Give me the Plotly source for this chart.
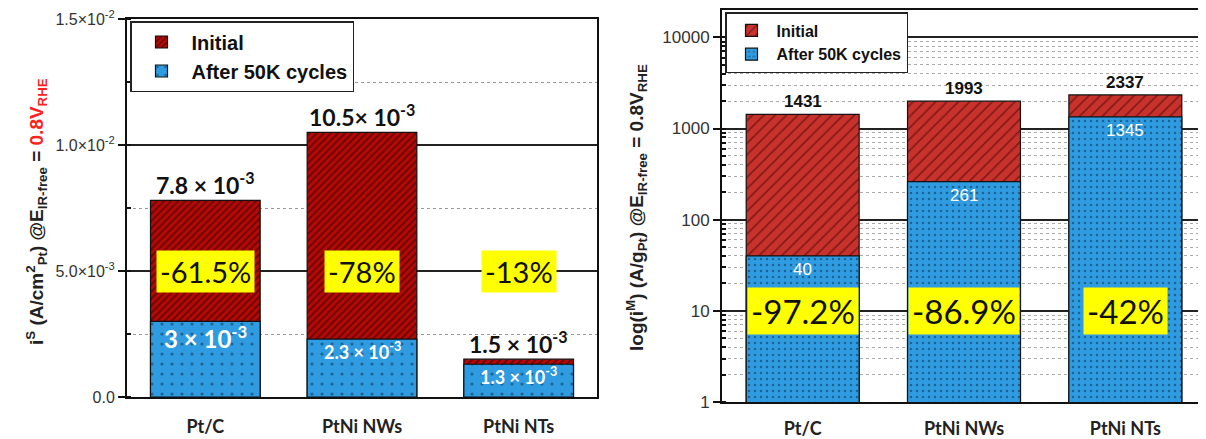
import numpy as np
import plotly.graph_objects as go

# categories and values
categories = ["Pt/C", "PtNi NWs", "PtNi NTs"]

# left: specific activity (A/cm2_Pt)
initial_s = [7.8e-3, 10.5e-3, 1.5e-3]
after_s = [3.0e-3, 2.3e-3, 1.3e-3]
initial_s_txt = ["7.8 × 10<sup>-3</sup>", "10.5× 10<sup>-3</sup>", "1.5 × 10<sup>-3</sup>"]
after_s_txt = ["3 × 10<sup>-3</sup>", "2.3 × 10<sup>-3</sup>", "1.3 × 10<sup>-3</sup>"]
loss_s = ["-61.5%", "-78%", "-13%"]

# right: mass activity (A/g_Pt)
initial_m = [1431, 1993, 2337]
after_m = [40, 261, 1345]
loss_m = ["-97.2%", "-86.9%", "-42%"]

left_ticks = [0, 0.005, 0.01, 0.015]
left_ticktext = ["0.0", "5.0×10<sup>-3</sup>", "1.0×10<sup>-2</sup>", "1.5×10<sup>-2</sup>"]
right_ticks = [1, 10, 100, 1000, 10000]
right_ticktext = ["1", "10", "100", "1000", "10000"]

RED = "#b40a05"
RED2 = "#c8322c"
BLUE = "#2f9be0"

W, H, OFF = 1206, 439, 8  # page body margin shifts the figure by 8px


def px(x):
    return (x - OFF) / W


def py(y):
    return 1 - (y - OFF) / H


fig = go.Figure()

# left panel (overlay: initial behind, after in front)
fig.add_trace(go.Bar(
    x=categories, y=initial_s, name="Initial", width=0.7,
    marker=dict(color=RED, line=dict(color="#111", width=1.2),
                pattern=dict(shape="/", fgcolor="#2a0000", size=5, solidity=0.4)),
    xaxis="x", yaxis="y", legend="legend",
))
fig.add_trace(go.Bar(
    x=categories, y=after_s, name="After 50K cycles", width=0.7,
    marker=dict(color=BLUE, line=dict(color="#111", width=1.2),
                pattern=dict(shape=".", fgcolor="#0b2b45", size=10, solidity=0.08)),
    xaxis="x", yaxis="y", legend="legend",
))

# right panel
fig.add_trace(go.Bar(
    x=categories, y=initial_m, name="Initial", width=0.7,
    marker=dict(color=RED2, line=dict(color="#111", width=1.2),
                pattern=dict(shape="/", fgcolor="#3a0000", size=8, solidity=0.2)),
    xaxis="x2", yaxis="y2", legend="legend2",
))
fig.add_trace(go.Bar(
    x=categories, y=after_m, name="After 50K cycles", width=0.7,
    marker=dict(color=BLUE, line=dict(color="#111", width=1.2),
                pattern=dict(shape=".", fgcolor="#0b2b45", size=6, solidity=0.15)),
    xaxis="x2", yaxis="y2", legend="legend2",
))

ann = []
cal = "Lato, Carlito, sans-serif"
ari = "Liberation Sans, Arial, sans-serif"
for c, v, t in zip(categories, initial_s, initial_s_txt):
    ann.append(dict(x=c, y=v, xref="x", yref="y", text="<b>" + t + "</b>", showarrow=False,
                    yanchor="bottom", yshift=-1, font=dict(family=cal, size=23, color="#111")))
for c, v, t, s in zip(categories, after_s, after_s_txt, [24, 18, 18]):
    ann.append(dict(x=c, y=v, xref="x", yref="y", text="<b>" + t + "</b>", showarrow=False,
                    yanchor="top", yshift=2, font=dict(family=cal, size=s, color="white")))
for c, t in zip(categories, loss_s):
    ann.append(dict(x=c, y=0.005, xref="x", yref="y", text=t, showarrow=False,
                    bgcolor="#ffff00", borderpad=3,
                    font=dict(family=cal, size=29, color="#111")))

for c, v in zip(categories, initial_m):
    ann.append(dict(x=c, y=np.log10(v), xref="x2", yref="y2", text="<b>%d</b>" % v, showarrow=False,
                    yanchor="bottom", yshift=1, font=dict(family=ari, size=17, color="#111")))
for c, v in zip(categories, after_m):
    ann.append(dict(x=c, y=np.log10(v), xref="x2", yref="y2", text="%d" % v, showarrow=False,
                    yanchor="top", yshift=-2, font=dict(family=ari, size=17, color="white")))
for c, t in zip(categories, loss_m):
    ann.append(dict(x=c, y=1, xref="x2", yref="y2", text=t, showarrow=False,
                    bgcolor="#ffff00", borderpad=3,
                    font=dict(family=cal, size=33, color="#111")))

# axis titles
ann.append(dict(x=px(36), y=py(212), xref="paper", yref="paper", textangle=-90, showarrow=False,
                xanchor="center", yanchor="middle",
                text="<b>i<sup>S</sup> (A/cm<sup>2</sup><sub>Pt</sub>) @E<sub>IR-free</sub> = "
                     "<span style='color:#ff2020'>0.8V<sub>RHE</sub></span></b>",
                font=dict(family=ari, size=19, color="#222")))
ann.append(dict(x=px(636), y=py(208), xref="paper", yref="paper", textangle=-90, showarrow=False,
                xanchor="center", yanchor="middle",
                text="<b>log(i<sup>M</sup>) (A/g<sub>Pt</sub>) @E<sub>IR-free</sub> = 0.8V<sub>RHE</sub></b>",
                font=dict(family=ari, size=19, color="#222")))

xcommon = dict(range=[-0.5, 2.5], showline=True, linecolor="#111", linewidth=2, mirror=True,
               ticks="", showgrid=False, automargin=False,
               tickfont=dict(family=cal, size=18, color="#222", weight="bold"))

fig.update_layout(
    width=W, height=H,
    margin=dict(l=0, r=0, t=0, b=0),
    paper_bgcolor="white", plot_bgcolor="white",
    barmode="overlay",
    showlegend=True,
    xaxis=dict(domain=[px(127), px(597)], anchor="y", ticklabelstandoff=12, **xcommon),
    yaxis=dict(domain=[py(397), py(19)], anchor="x", range=[0, 0.015],
               automargin=False, ticklabeloverflow="allow",
               tickvals=left_ticks, ticktext=left_ticktext, ticks="outside", ticklen=7,
               tickwidth=2, tickcolor="#111",
               showline=True, linecolor="#111", linewidth=2, mirror=True,
               showgrid=True, gridcolor="#222", gridwidth=1.5, zeroline=False,
               tickfont=dict(family=ari, size=16, color="#333"),
               minor=dict(dtick=0.0025, showgrid=True, gridcolor="#999", griddash="dot",
                          gridwidth=1, ticks="inside", ticklen=4, tickcolor="#111")),
    xaxis2=dict(domain=[px(722), px(1206)], anchor="y2", ticklabelstandoff=9, **xcommon),
    yaxis2=dict(domain=[py(402), py(10)], anchor="x2", type="log", range=[0, 4.3],
                automargin=False, ticklabeloverflow="allow",
                tickvals=right_ticks, ticktext=right_ticktext, ticks="outside", ticklen=7,
                tickwidth=2, tickcolor="#111",
                showline=True, linecolor="#111", linewidth=2, mirror=True,
                showgrid=True, gridcolor="#222", gridwidth=1.5, zeroline=False,
                tickfont=dict(family=ari, size=17, color="#333"),
                minor=dict(dtick="D1", showgrid=True, gridcolor="#aaa", griddash="dot",
                           gridwidth=1, ticks="inside", ticklen=4, tickcolor="#111")),
    legend=dict(x=px(130), y=py(21), xanchor="left", yanchor="top",
                bgcolor="white", bordercolor="#222", borderwidth=1.5,
                font=dict(family=ari, size=20, color="#111", weight="bold"),
                itemwidth=50, traceorder="normal"),
    legend2=dict(x=px(725), y=py(12), xanchor="left", yanchor="top",
                 bgcolor="white", bordercolor="#222", borderwidth=1.5,
                 font=dict(family=ari, size=16, color="#111", weight="bold"),
                 itemwidth=40, traceorder="normal"),
    annotations=ann,
)

fig.write_html("out.html")
